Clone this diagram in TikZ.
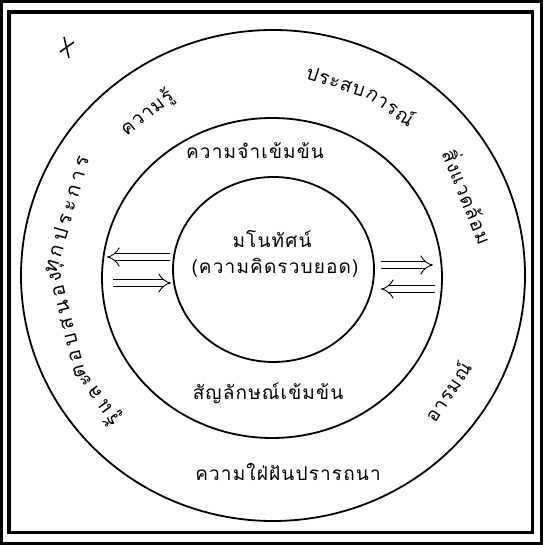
\documentclass[tikz,border=0pt]{standalone}
\usepackage{fontspec}
\newfontfamily\thaifont[Script=Thai,LetterSpace=6]{Loma}
\newfontfamily\thaiwide[Script=Thai,LetterSpace=20]{Loma}
\usetikzlibrary{shapes.geometric,arrows.meta}

\begin{document}
\begin{tikzpicture}[x=1pt,y=1pt,
  every node/.style={font=\thaifont\fontsize{19}{22}\selectfont,inner sep=1pt},
  wide/.style={font=\thaiwide\fontsize{20}{22}\selectfont},
  ring/.style={draw,ellipse,line width=1.8pt,inner sep=0pt,outer sep=0pt},
  openarrow/.style={double,double distance=6pt,line width=0.9pt,-{Implies[length=7pt,width=18pt]}}]
  \useasboundingbox (0,0) rectangle (543,545);
  % frame
  \draw[line width=3pt] (1.5,1.5) rectangle (541.5,543.5);
  \draw[line width=3.5pt] (9,12.5) rectangle (532.5,533);
  \draw[line width=1.5pt] (60,493)--(74,503) (64,508)--(69,487);

  % rings
  \coordinate (c) at (273,271);
  \node[ring,minimum width=504pt,minimum height=491pt] (outer) at (273,269.5) {};
  \node[ring,minimum width=340pt,minimum height=320pt] (middle) at (272,267) {};
  \node[ring,minimum width=201pt,minimum height=185pt] (inner) at (273.5,275.5) {};

  % centre
  \node (mano) at (272,306) {มโนทัศน์};
  \node (concept) at (275,277) {(ความคิดรวบยอด)};

  % middle ring
  \node (memory) at (255,394) {ความจำเข้มข้น};
  \node (symbol) at (268,152) {สัญลักษณ์เข้มข้น};

  % outer ring
  \node[rotate=38] (knowledge) at ([shift={(128:204)}]c) {ความรู้};
  \node[rotate=-18] (exp-a) at ([shift={(72:203)}]c) {ประสบ};
  \node[rotate=-35] (exp-b) at ([shift={(55:206)}]c) {การณ์};
  \node[rotate=-68] (environment) at ([shift={(21.7:211)}]c) {สิ่งแวดล้อม};
  \node[rotate=56] (emotion) at ([shift={(-34:210)}]c) {อารมณ์};
  \node (dream) at (288,73) {ความใฝ่ฝันปรารถนา};
  \node[wide,rotate=74] (resp-a) at ([shift={(164:213)}]c) {ทุกประการ};
  \node[wide,rotate=104] (resp-b) at ([shift={(194:212)}]c) {ตอบสนอง};
  \node[wide,rotate=126] (resp-c) at ([shift={(216:214)}]c) {รู้และ};

  % arrows between inner and middle ring
  \coordinate (lt) at ([shift={(-3,12.5)}]inner.west);
  \coordinate (lb) at ([shift={(-2,-13.5)}]inner.west);
  \coordinate (rt) at ([shift={(7,4.5)}]inner.east);
  \coordinate (rb) at ([shift={(7,-19.5)}]inner.east);
  \draw[openarrow,shorten >=5pt] (lt) -- (lt -| middle.west);
  \draw[openarrow,shorten <=11pt] (lb -| middle.west) -- (lb);
  \draw[openarrow,shorten >=9pt] (rt) -- (rt -| middle.east);
  \draw[openarrow,shorten <=7pt] (rb -| middle.east) -- (rb);
\end{tikzpicture}
\end{document}
